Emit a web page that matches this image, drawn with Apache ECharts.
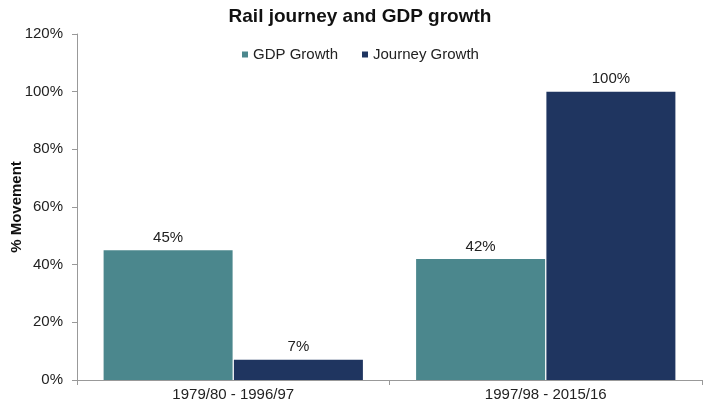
<!DOCTYPE html>
<html><head><meta charset="utf-8">
<script src="https://cdn.jsdelivr.net/npm/echarts@6/dist/echarts.min.js"></script>
<style>html,body{margin:0;padding:0;background:#fff}#c{width:712px;height:411px}</style>
</head><body><div id="c"></div>
<script>
var categories = ['1979/80 - 1996/97', '1997/98 - 2015/16'];
var gdpGrowth = [45, 42];
var journeyGrowth = [7, 100];
var yTicks = [0, 20, 40, 60, 80, 100, 120];

var chart = echarts.init(document.getElementById('c'));
var font = 'Liberation Sans, Arial, sans-serif';
chart.setOption({
  animation: false,
  title: {text: 'Rail journey and GDP growth', left: 355, top: 2, textAlign: 'center',
    textStyle: {fontFamily: font, fontSize: 19, fontWeight: 'bold', color: '#111'}},
  legend: {top: 42, left: 237, itemWidth: 6, itemHeight: 6, itemGap: 24,
    icon: 'rect', textStyle: {fontFamily: font, fontSize: 15, color: '#222'},
    data: ['GDP Growth', 'Journey Growth']},
  grid: {left: 77, right: 10, top: 34, bottom: 31, containLabel: false, outerBoundsMode: 'none'},
  xAxis: {type: 'category', data: categories,
    axisLine: {lineStyle: {color: '#999'}},
    axisTick: {show: true, length: 5, lineStyle: {color: '#999'}},
    axisLabel: {fontFamily: font, fontSize: 15, color: '#222', margin: 7}},
  yAxis: {type: 'value', min: 0, max: 120, interval: 20,
    name: '% Movement', nameLocation: 'middle', nameGap: 53, nameRotate: 90,
    nameMoveOverlap: false,
    nameTextStyle: {fontFamily: font, fontSize: 15, fontWeight: 'bold', color: '#111'},
    axisLine: {show: true, lineStyle: {color: '#999'}},
    axisTick: {show: true, length: 5, lineStyle: {color: '#999'}},
    splitLine: {show: false},
    axisLabel: {fontFamily: font, fontSize: 15, color: '#222', margin: 14,
      formatter: function(v){ return yTicks.indexOf(v) >= 0 ? v + '%' : ''; }}},
  series: [
    {name: 'GDP Growth', type: 'bar', data: gdpGrowth, barWidth: 129, barGap: '1%',
      itemStyle: {color: '#4B878D'},
      label: {show: true, position: 'top', distance: 5, formatter: '{c}%',
        fontFamily: font, fontSize: 15, color: '#222'}},
    {name: 'Journey Growth', type: 'bar', data: journeyGrowth, barWidth: 129,
      itemStyle: {color: '#1F3560'},
      label: {show: true, position: 'top', distance: 5, formatter: '{c}%',
        fontFamily: font, fontSize: 15, color: '#222'}}
  ]
});
</script></body></html>
